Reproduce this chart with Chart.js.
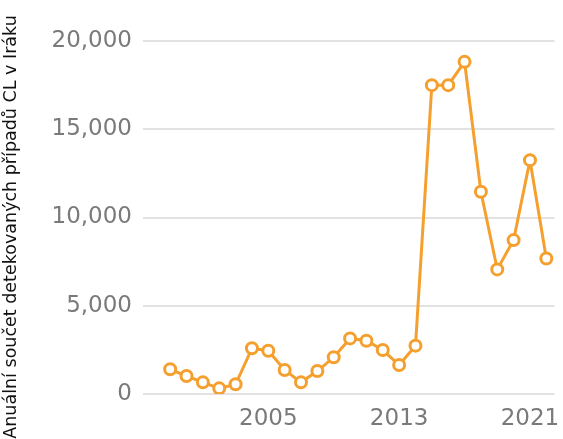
<!DOCTYPE html>
<html>
<head>
<meta charset="utf-8">
<script src="https://cdn.jsdelivr.net/npm/chart.js@4"></script>
<style>
html,body{margin:0;padding:0;background:#fff;}
#wrap{width:563px;height:439px;position:relative;}
</style>
</head>
<body>
<div id="wrap"><canvas id="c" width="563" height="439"></canvas></div>
<script>
const years = ['1999','2000','2001','2002','2003','2004','2005','2006','2007','2008','2009','2010','2011','2012','2013','2014','2015','2016','2017','2018','2019','2020','2021','2022'];
const cases = [1400,1020,660,320,550,2590,2450,1360,660,1300,2080,3150,3020,2490,1640,2740,17500,17500,18820,11460,7060,8720,13250,7680];
const shownYears = ['2005','2013','2021'];
const yTitle = 'Anuální součet detekovaných případů CL v Iráku';

const orange = '#f5a02e';

const yTitlePlugin = {
  id: 'yTitlePlugin',
  afterDraw(chart) {
    const ctx = chart.ctx;
    ctx.save();
    ctx.translate(11, 227);
    ctx.rotate(-Math.PI / 2);
    ctx.font = '17.5px "DejaVu Sans"';
    ctx.fillStyle = '#111';
    ctx.textAlign = 'center';
    ctx.textBaseline = 'middle';
    ctx.fillText(yTitle, 0, 0);
    ctx.restore();
  }
};

new Chart(document.getElementById('c'), {
  type: 'line',
  data: {
    labels: years,
    datasets: [{
      data: cases,
      borderColor: orange,
      backgroundColor: '#ffffff',
      borderWidth: 3,
      pointRadius: 5.5,
      pointHoverRadius: 5.5,
      pointBorderWidth: 3,
      pointBackgroundColor: '#ffffff',
      pointBorderColor: orange,
      tension: 0,
      fill: false
    }]
  },
  plugins: [yTitlePlugin],
  options: {
    responsive: false,
    animation: false,
    devicePixelRatio: 1,
    layout: { padding: { top: 41, right: 7, bottom: 0, left: 0 } },
    plugins: { legend: { display: false }, tooltip: { enabled: false } },
    scales: {
      x: {
        offset: true,
        grid: { display: false, drawTicks: false },
        border: { display: false },
        ticks: {
          autoSkip: false, maxRotation: 0, minRotation: 0, padding: 11,
          color: '#7a7a7a', font: { family: 'DejaVu Sans', size: 23 },
          callback: function(v, i) { const y = years[i]; return shownYears.includes(y) ? y : ''; }
        },
        afterFit: s => { s.height = 45; }
      },
      y: {
        min: 0, max: 20000,
        grid: { color: '#e2e2e2', lineWidth: 2, tickLength: 19, drawTicks: true },
        border: { display: false },
        ticks: { stepSize: 5000, padding: 11, color: '#7a7a7a', font: { family: 'DejaVu Sans', size: 23 } },
        title: { display: false },
        afterFit: s => { s.width = 162; }
      }
    }
  }
});
</script>
</body>
</html>
